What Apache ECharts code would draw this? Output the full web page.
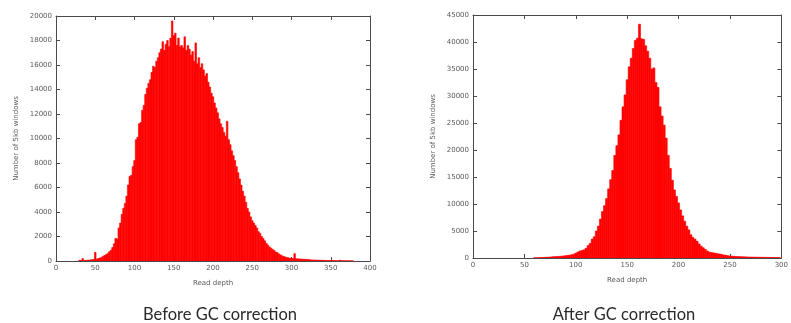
<!DOCTYPE html>
<html>
<head>
<meta charset="utf-8">
<script src="https://cdn.jsdelivr.net/npm/echarts@6/dist/echarts.min.js"></script>
<style>
html,body{margin:0;padding:0;background:#fff;}
#c{width:791px;height:323px;}
</style>
</head>
<body>
<div id="c"></div>
<script>
// ---- Data ----
const beforeTitle = 'Before GC correction';
const afterTitle = 'After GC correction';
const xName = 'Read depth';
const yName = 'Number of 5kb windows';

// Left histogram: bins of width 2 starting at read depth 30
const beforeStart = 30;
const beforeStep = 2;
const beforeCounts = [
  60, 40, 200, 30, 50, 60, 80, 90, 110, 130,
  700, 150, 200, 250, 280, 380, 450, 520, 620, 760,
  870, 1100, 1400, 1850, 1800, 2700, 3100, 3800, 4300, 4700,
  5300, 6200, 6900, 7000, 7700, 8200, 9900, 10100, 11200, 11300,
  12300, 12700, 13600, 14100, 14500, 14800, 15400, 15900, 15800, 16300,
  16600, 17000, 17300, 17900, 17200, 17700, 18000, 17500, 18200, 19600,
  18400, 18600, 17600, 18200, 17500, 17600, 17400, 18300, 17200, 17600,
  17300, 16800, 17100, 16300, 17800, 16100, 16600, 15800, 16100, 15600,
  15100, 15300, 14600, 14200, 13700, 13400, 12900, 12500, 12100, 11600,
  11200, 10900, 10500, 10200, 11400, 9900, 9500, 9000, 8600, 8200,
  7700, 7200, 6700, 6200, 5700, 5300, 4800, 4300, 4000, 3600,
  3300, 3100, 2900, 2700, 2400, 2250, 2000, 1850, 1650, 1450,
  1300, 1150, 1050, 950, 850, 730, 680, 580, 500, 420,
  380, 330, 280, 260, 240, 220, 200, 600, 190, 170,
  170, 160, 150, 140, 130, 130, 120, 100, 90, 85,
  80, 75, 70, 65, 60, 55, 50, 48, 45, 42,
  40, 38, 35, 32, 30, 28, 60, 25, 22, 20,
  20, 18, 15, 12, 10
];

// Right histogram: bins of width 2 starting at read depth 60
const afterStart = 60;
const afterStep = 2;
const afterCounts = [
  40, 50, 60, 80, 100, 120, 140, 160, 200, 240,
  260, 280, 300, 330, 380, 420, 480, 520, 600, 700,
  900, 1100, 1300, 1400, 1500, 1800, 2300, 2700, 3500, 3950,
  5000, 5900, 7200, 8600, 9700, 11000, 12800, 14500, 16200, 19000,
  20800, 22800, 25500, 28000, 30200, 33000, 35400, 37000, 38800, 40300,
  40700, 43300, 40600, 40500, 39300, 38300, 37000, 35000, 35200, 32500,
  31600, 28000, 26300, 24600, 22200, 19000, 16600, 14400, 12600, 11400,
  10200, 8900, 7800, 6800, 5900, 5200, 4300, 3800, 3500, 3100,
  2600, 2200, 1900, 1600, 1300, 1100, 1000, 950, 880, 800,
  750, 650, 560, 520, 430, 370, 340, 310, 290, 270,
  250, 230, 220, 200, 190, 180, 170, 160, 150, 140,
  130, 125, 120, 110, 105, 100, 95, 90, 85, 80
];

// Axis ranges / tick spacing
const beforeX = {min: 0, max: 400, interval: 50};
const beforeY = {min: 0, max: 20000, interval: 2000};
const afterX = {min: 0, max: 300, interval: 50};
const afterY = {min: 0, max: 45000, interval: 5000};

// ---- Chart ----
function toBins(start, step, counts) {
  return counts.map((v, i) => [start + i * step, v, step]);
}

function renderBars(params, api) {
  const x = api.value(0), y = api.value(1), w = api.value(2);
  const p0 = api.coord([x - w / 2, y]);
  const p1 = api.coord([x + w / 2, 0]);
  return {
    type: 'rect',
    shape: {x: p0[0], y: p0[1], width: p1[0] - p0[0], height: p1[1] - p0[1]},
    style: {fill: '#ff0000', stroke: '#ff0000', lineWidth: 0.6}
  };
}

const lineCol = '#4a4a4a';
const labelCol = '#5a5a5a';
const fontFam = 'DejaVu Sans, sans-serif';
const plainNum = v => String(v);

function xAxes(gridIndex, r) {
  const base = {
    type: 'value', gridIndex, min: r.min, max: r.max, interval: r.interval,
    splitLine: {show: false},
    axisLine: {show: true, onZero: false, lineStyle: {color: lineCol, width: 1}},
    axisTick: {show: true, inside: true, length: 4, lineStyle: {color: lineCol}}
  };
  return [
    Object.assign({}, base, {
      position: 'bottom',
      name: xName, nameLocation: 'middle', nameGap: 19,
      nameTextStyle: {color: labelCol, fontSize: 7, fontFamily: fontFam},
      axisLabel: {color: labelCol, fontSize: 7, fontFamily: fontFam, margin: 4, formatter: plainNum}
    }),
    Object.assign({}, base, {position: 'top', axisLabel: {show: false}})
  ];
}

function yAxes(gridIndex, r) {
  const base = {
    type: 'value', gridIndex, min: r.min, max: r.max, interval: r.interval,
    splitLine: {show: false},
    axisLine: {show: true, onZero: false, lineStyle: {color: lineCol, width: 1}},
    axisTick: {show: true, inside: true, length: 4, lineStyle: {color: lineCol}}
  };
  return [
    Object.assign({}, base, {
      position: 'left',
      name: yName, nameLocation: 'middle', nameGap: 36,
      nameTextStyle: {color: labelCol, fontSize: 7, fontFamily: fontFam},
      axisLabel: {color: labelCol, fontSize: 7, fontFamily: fontFam, margin: 4, formatter: plainNum}
    }),
    Object.assign({}, base, {position: 'right', axisLabel: {show: false}})
  ];
}

const chart = echarts.init(document.getElementById('c'), null, {renderer: 'canvas'});
chart.setOption({
  animation: false,
  backgroundColor: '#fff',
  grid: [
    {left: 56, top: 16, width: 314, height: 245},
    {left: 473, top: 15, width: 314, height: 243}
  ],
  xAxis: [].concat(xAxes(0, beforeX), xAxes(1, afterX)),
  yAxis: [].concat(yAxes(0, beforeY), yAxes(1, afterY)),
  series: [
    {type: 'custom', xAxisIndex: 0, yAxisIndex: 0, renderItem: renderBars, clip: true,
     encode: {x: 0, y: 1}, data: toBins(beforeStart, beforeStep, beforeCounts), z: 1},
    {type: 'custom', xAxisIndex: 2, yAxisIndex: 2, renderItem: renderBars, clip: true,
     encode: {x: 0, y: 1}, data: toBins(afterStart, afterStep, afterCounts), z: 1}
  ],
  graphic: [
    {type: 'text', x: 220, y: 315,
     style: {text: beforeTitle, align: 'center', verticalAlign: 'middle',
             font: '16.5px Lato, sans-serif', fill: '#2a2a2a'}},
    {type: 'text', x: 624, y: 315,
     style: {text: afterTitle, align: 'center', verticalAlign: 'middle',
             font: '16.5px Lato, sans-serif', fill: '#2a2a2a'}}
  ]
});
</script>
</body>
</html>
